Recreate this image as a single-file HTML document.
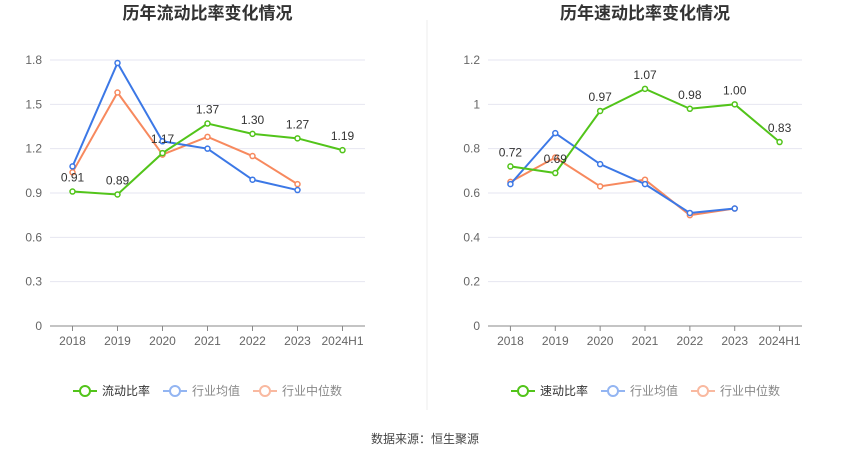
<!DOCTYPE html>
<html><head><meta charset="utf-8"><style>
body{margin:0;background:#fff;font-family:"Liberation Sans","Noto Sans CJK SC",sans-serif;}
svg text{font-family:"Liberation Sans","Noto Sans CJK SC",sans-serif;}
</style></head><body>
<svg id="s" width="850" height="459" xmlns="http://www.w3.org/2000/svg">
<line x1="427" y1="20" x2="427" y2="410" stroke="#eeeeee"/>
<text x="425" y="443" text-anchor="middle" font-size="12" fill="#444">数据来源：恒生聚源</text>
</svg>
<script>
const categories=["2018","2019","2020","2021","2022","2023","2024H1"];
const currentRatio=[0.91,0.89,1.17,1.37,1.30,1.27,1.19];
const currentAvg=[1.08,1.78,1.25,1.20,0.99,0.92];
const currentMedian=[1.04,1.58,1.16,1.28,1.15,0.96];
const leftTicks=[0,0.3,0.6,0.9,1.2,1.5,1.8];
const quickRatio=[0.72,0.69,0.97,1.07,0.98,1.00,0.83];
const quickAvg=[0.64,0.87,0.73,0.64,0.51,0.53];
const quickMedian=[0.65,0.76,0.63,0.66,0.50,0.53];
const rightTicks=[0,0.2,0.4,0.6,0.8,1,1.2];
const NS="http://www.w3.org/2000/svg";
const svg=document.getElementById('s');
function mk(t,a,p){const e=document.createElementNS(NS,t);for(const k in a)e.setAttribute(k,a[k]);(p||svg).appendChild(e);return e;}
function panel(o){
  const g=mk('g',{});
  
  
  const x0=o.x0,x1=o.x1,yb=326,yt=60,max=o.ticks[o.ticks.length-1];
  const step=(x1-x0)/categories.length;
  const X=i=>x0+step*(i+0.5);
  const Y=v=>yb-(v/max)*(yb-yt);
  const t=mk('text',{x:(x0+x1)/2,y:19,'text-anchor':'middle','font-size':17,'font-weight':'bold',fill:'#333'},g);t.textContent=o.title;
  
  
  o.ticks.forEach(v=>{
    if(v>0){const l=mk('line',{x1:x0,x2:x1,y1:Y(v),y2:Y(v),stroke:'#e6e6f0'},g);
    
    }
    const tx=mk('text',{x:x0-8,y:Y(v)+4,'text-anchor':'end','font-size':12,fill:'#666'},g);tx.textContent=v;
    
    
  });
  const ax=mk('line',{x1:x0,x2:x1,y1:yb,y2:yb,stroke:'#888'},g);
  
  
  categories.forEach((c,i)=>{
    const tk=mk('line',{x1:X(i),x2:X(i),y1:yb,y2:yb+5,stroke:'#888'},g);
    
    
    const tx=mk('text',{x:X(i),y:yb+19,'text-anchor':'middle','font-size':12,fill:'#666'},g);tx.textContent=c;
    
    
  });
  const series=[[o.med,'#f7895e','industry-median'],[o.avg,'#3c78e6','industry-average'],[o.main,'#52c41a','company-ratio']];
  series.forEach(([d,col,nm])=>{
    const p=mk('polyline',{points:d.map((v,i)=>X(i)+','+Y(v)).join(' '),fill:'none',stroke:col,'stroke-width':2},g);
    
    
    d.forEach((v,i)=>{
      const c=mk('circle',{cx:X(i),cy:Y(v),r:2.5,fill:'#fff',stroke:col,'stroke-width':1.5},g);
      
      
    });
  });
  o.main.forEach((v,i)=>{
    const tx=mk('text',{x:X(i),y:Y(v)-10,'text-anchor':'middle','font-size':12,fill:'#333'},g);tx.textContent=v.toFixed(2);
    
    
  });
  const leg=[[o.title.slice(2,6),'#52c41a','#333'],['行业均值','#93b5f2','#888'],['行业中位数','#f9b9a0','#888']];
  let lx=o.legX;
  leg.forEach(([n,col,tc],k)=>{
    const lg=mk('g',{},g);
    
    
    mk('line',{x1:lx,x2:lx+24,y1:391,y2:391,stroke:col,'stroke-width':2},lg);
    mk('circle',{cx:lx+12,cy:391,r:5,fill:'#fff',stroke:col,'stroke-width':2},lg);
    const tx=mk('text',{x:lx+29,y:395,'font-size':12,fill:tc},lg);tx.textContent=n;
    lx+=29+n.length*12+13;
  });
}
panel({name:'current-ratio-chart',title:'历年流动比率变化情况',x0:50,x1:365,ticks:leftTicks,main:currentRatio,avg:currentAvg,med:currentMedian,legX:73});
panel({name:'quick-ratio-chart',title:'历年速动比率变化情况',x0:488,x1:802,ticks:rightTicks,main:quickRatio,avg:quickAvg,med:quickMedian,legX:511});
</script>
</body></html>
